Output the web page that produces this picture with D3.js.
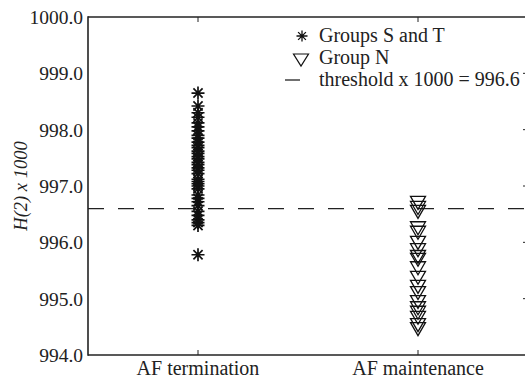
<!DOCTYPE html>
<html>
<head>
<meta charset="utf-8">
<script src="https://cdn.jsdelivr.net/npm/d3@7"></script>
<style>
  html, body { margin: 0; padding: 0; background: #fff; }
  svg { display: block; }
</style>
</head>
<body>
<svg id="chart" width="525" height="381"></svg>
<script>
// ---- data ----
const categories = ["AF termination", "AF maintenance"];
const yTicks = [994, 995, 996, 997, 998, 999, 1000];
const threshold = 996.6;
const groupST = [998.65, 998.42, 998.30, 998.22, 998.12, 998.05, 997.98, 997.90, 997.85,
  997.78, 997.72, 997.68, 997.62, 997.58, 997.52, 997.48, 997.42, 997.38, 997.32, 997.28,
  997.22, 997.12, 997.08, 997.04, 997.00, 996.95, 996.84, 996.78, 996.72, 996.65, 996.55,
  996.48, 996.40, 996.35, 996.30, 995.78];
const groupN = [996.70, 996.61, 996.54, 996.25, 996.17, 995.99, 995.86, 995.74, 995.69,
  995.54, 995.37, 995.21, 995.10, 994.94, 994.83, 994.75, 994.66, 994.53, 994.46];
const legendItems = ["Groups S and T", "Group N", "threshold x 1000 = 996.6"];

// ---- layout ----
const FONT = "'Liberation Serif', 'Times New Roman', Times, 'DejaVu Serif', serif";
const svg = d3.select("#chart");
const L = 88, R = 528, T = 17, B = 355;
const x = d3.scaleBand().domain(categories).range([L, R]);
const cx = c => x(c) + x.bandwidth() / 2;
const y = d3.scaleLinear().domain([994, 1000]).range([B, T]);
const ink = "#222";

// threshold dashed line
svg.append("line")
  .attr("x1", L).attr("x2", R)
  .attr("y1", y(threshold)).attr("y2", y(threshold))
  .attr("stroke", ink).attr("stroke-width", 1.2)
  .attr("stroke-dasharray", "16,14");

// markers
function starPath(s) {
  const r = s / 2, d = r * Math.SQRT1_2;
  return `M${-r},0L${r},0M0,${-r}L0,${r}M${-d},${-d}L${d},${d}M${-d},${d}L${d},${-d}`;
}
function triPath(w, h) {
  return `M${-w/2},${-h/2}L${w/2},${-h/2}L0,${h/2}Z`;
}

svg.append("g").selectAll("path").data(groupST).join("path")
  .attr("transform", d => `translate(${cx(categories[0])},${y(d)})`)
  .attr("d", starPath(13))
  .attr("fill", "none").attr("stroke", "#111").attr("stroke-width", 1.7);

svg.append("g").selectAll("path").data(groupN).join("path")
  .attr("transform", d => `translate(${cx(categories[1])},${y(d)})`)
  .attr("d", triPath(15, 13))
  .attr("fill", "none").attr("stroke", "#111").attr("stroke-width", 1.3);

// axes frame
const frame = svg.append("g").attr("stroke", ink).attr("stroke-width", 1.6).attr("fill", "none");
frame.append("line").attr("x1", L).attr("x2", L).attr("y1", T - 0.8).attr("y2", B + 0.8);
frame.append("line").attr("x1", L).attr("x2", R).attr("y1", B).attr("y2", B);
frame.append("line").attr("x1", L).attr("x2", R).attr("y1", T).attr("y2", T);
frame.append("line").attr("x1", R).attr("x2", R).attr("y1", T).attr("y2", B);

// inward ticks
const tk = svg.append("g").attr("stroke", ink).attr("stroke-width", 1);
categories.forEach(c => {
  tk.append("line").attr("x1", cx(c)).attr("x2", cx(c)).attr("y1", B).attr("y2", B - 5);
  tk.append("line").attr("x1", cx(c)).attr("x2", cx(c)).attr("y1", T).attr("y2", T + 5);
});
yTicks.slice(1, -1).forEach(v => {
  tk.append("line").attr("x1", R).attr("x2", R - 5).attr("y1", y(v)).attr("y2", y(v));
});

// y tick labels
svg.append("g").selectAll("text").data(yTicks).join("text")
  .attr("x", L - 5).attr("y", d => y(d)).attr("dy", "0.36em")
  .attr("text-anchor", "end").attr("font-size", 19.5)
  .attr("font-family", FONT).attr("fill", ink)
  .text(d => d3.format(".1f")(d));

// x labels
svg.append("g").selectAll("text").data(categories).join("text")
  .attr("x", d => cx(d)).attr("y", 375)
  .attr("text-anchor", "middle").attr("font-size", 20)
  .attr("font-family", FONT).attr("fill", ink)
  .text(d => d);

// y title
svg.append("text")
  .attr("transform", `translate(27,${(T + B) / 2}) rotate(-90)`)
  .attr("text-anchor", "middle").attr("font-size", 18.5).attr("font-style", "italic")
  .attr("font-family", FONT).attr("fill", ink)
  .text("H(2) x 1000");

// legend
const lg = svg.append("g");
const lx = 302, ltx = 319, rows = [36, 58, 80];
lg.append("path").attr("transform", `translate(${lx},${rows[0]})`).attr("d", starPath(11))
  .attr("fill", "none").attr("stroke", "#111").attr("stroke-width", 1.3);
lg.append("path").attr("transform", `translate(${lx - 1},${rows[1] + 2})`).attr("d", triPath(15, 12))
  .attr("fill", "none").attr("stroke", "#111").attr("stroke-width", 1.2);
lg.append("line").attr("x1", lx - 17).attr("x2", lx - 2).attr("y1", rows[2]).attr("y2", rows[2])
  .attr("stroke", ink).attr("stroke-width", 1.3);
lg.selectAll("text.leg").data(legendItems).join("text").attr("class", "leg")
  .attr("x", ltx).attr("y", (d, i) => rows[i] + 6).attr("font-size", 20)
  .attr("font-family", FONT).attr("fill", ink)
  .text(d => d);
</script>
</body>
</html>
